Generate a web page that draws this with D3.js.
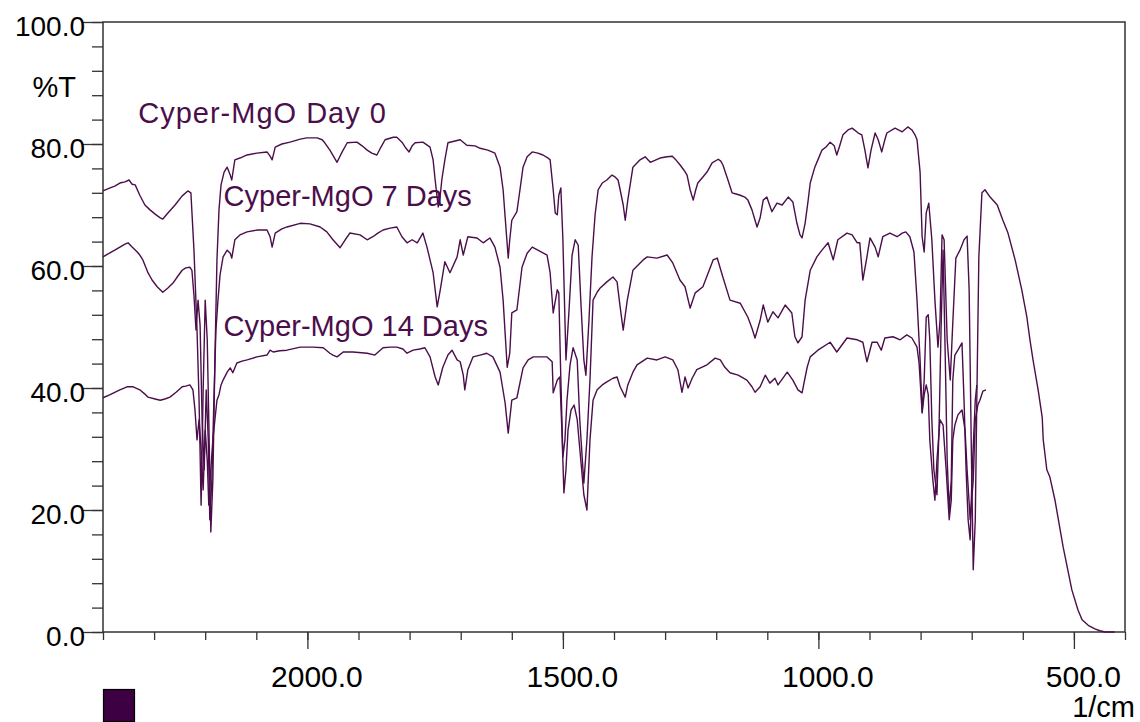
<!DOCTYPE html>
<html>
<head>
<meta charset="utf-8">
<script src="https://cdn.jsdelivr.net/npm/d3@7"></script>
<style>
  html, body { margin: 0; padding: 0; background: #fff; }
  svg { display: block; font-family: "Liberation Sans", Arial, sans-serif; }
</style>
</head>
<body>
<div id="chart"></div>
<script>
// ==== data: [wavenumber (1/cm), %T] ====

const day0 = [
  [2400,72.3],[2386,72.8],[2377,73.1],[2367,73.6],[2357,73.8],[2349,74.1],[2343,73.4],[2337,73.3],
  [2328,71.6],[2318,70.0],[2308,69.2],[2298,68.5],[2288,67.9],[2283,67.7],[2273,68.7],[2259,70.0],
  [2245,71.5],[2234,72.3],[2228,72.0],[2222,62.6],[2216,49.5],[2212,38.0],[2208,20.8],[2204,39.7],
  [2200,54.4],[2196,47.9],[2193,34.8],[2189,16.4],[2185,24.9],[2181,44.6],[2177,61.0],[2173,69.2],
  [2169,73.3],[2163,75.4],[2157,76.2],[2151,74.9],[2148,74.1],[2142,77.4],[2132,77.7],[2118,78.2],
  [2099,78.5],[2079,78.7],[2073,78.0],[2069,77.4],[2063,79.5],[2050,80.0],[2034,80.3],[2014,80.8],
  [2001,81.0],[1981,81.0],[1971,80.7],[1966,80.2],[1956,79.0],[1942,77.0],[1932,78.7],[1922,80.2],
  [1903,80.3],[1893,79.7],[1883,79.0],[1874,78.5],[1864,78.2],[1856,79.5],[1848,80.7],[1832,81.1],
  [1825,81.1],[1815,80.3],[1807,79.3],[1801,78.7],[1795,79.7],[1789,80.2],[1774,80.3],[1760,79.5],
  [1754,77.4],[1750,74.1],[1744,69.7],[1740,71.6],[1737,74.1],[1731,77.4],[1725,80.2],[1711,80.5],
  [1701,80.7],[1688,79.8],[1672,79.7],[1662,79.3],[1647,79.0],[1633,78.5],[1623,76.2],[1617,72.5],
  [1613,68.0],[1607,61.3],[1604,64.3],[1600,67.5],[1590,68.9],[1584,72.5],[1578,76.2],[1570,77.9],
  [1560,78.7],[1549,78.5],[1539,78.2],[1529,77.7],[1525,77.4],[1519,72.5],[1515,68.7],[1511,68.4],
  [1508,71.6],[1504,72.8],[1500,64.3],[1494,44.6],[1488,52.8],[1482,61.8],[1476,64.3],[1470,63.4],
  [1465,54.4],[1459,44.6],[1455,42.1],[1449,51.1],[1443,61.5],[1437,68.4],[1431,72.5],[1423,73.6],
  [1414,74.1],[1404,74.9],[1398,74.6],[1392,74.1],[1388,72.5],[1382,70.0],[1378,67.5],[1373,70.8],
  [1363,76.2],[1349,77.4],[1339,77.9],[1329,77.0],[1310,77.7],[1296,77.9],[1286,78.0],[1279,77.4],
  [1271,76.6],[1263,75.7],[1257,74.9],[1251,72.5],[1245,70.8],[1240,72.5],[1236,73.6],[1226,74.6],
  [1218,75.4],[1208,76.9],[1196,77.5],[1191,77.2],[1187,76.6],[1177,74.1],[1169,72.0],[1161,71.8],
  [1153,71.6],[1144,71.3],[1138,70.8],[1130,69.2],[1124,67.5],[1120,66.4],[1114,67.9],[1108,70.8],
  [1101,71.3],[1091,68.9],[1081,70.3],[1071,70.0],[1059,71.3],[1050,70.5],[1042,67.0],[1036,65.1],
  [1032,64.6],[1026,67.0],[1020,70.8],[1016,73.6],[1007,76.2],[1001,77.4],[993,79.0],[985,79.5],
  [977,80.3],[969,79.7],[964,78.2],[958,79.8],[952,81.5],[942,82.3],[934,82.6],[922,81.8],
  [915,81.5],[909,79.0],[903,76.1],[897,79.0],[889,81.8],[883,80.7],[876,78.7],[870,80.7],
  [866,81.8],[850,82.6],[836,82.0],[825,82.8],[817,82.3],[811,81.5],[807,80.7],[801,75.4],
  [797,64.8],[793,62.3],[789,68.7],[784,70.3],[778,64.3],[772,54.4],[766,46.7],[762,51.1],
  [758,65.1],[754,64.3],[748,47.9],[742,41.3],[737,50.7],[731,61.3],[723,62.6],[715,64.3],
  [709,64.9],[705,56.1],[701,31.5],[697,10.2],[693,18.4],[690,38.0],[686,61.5],[680,72.0],
  [674,72.5],[664,71.3],[650,70.0],[639,67.5],[629,65.4],[615,61.0],[602,56.1],[592,51.6],
  [586,47.9],[580,44.6],[570,39.7],[562,35.2],[560,31.5],[553,26.6],[547,25.4],[537,21.6],
  [521,13.9],[504,6.9],[492,3.6],[484,2.0],[472,1.1],[459,0.5],[449,0.2],[439,0.0],[420,0.0]
];

const day7 = [
  [2400,61.5],[2390,62.0],[2377,62.6],[2367,63.1],[2357,63.6],[2351,63.8],[2343,63.1],[2333,62.3],
  [2328,61.8],[2322,61.0],[2312,58.9],[2304,57.7],[2294,56.6],[2283,55.7],[2273,56.4],[2263,57.2],
  [2253,58.4],[2245,59.3],[2238,59.7],[2230,59.8],[2226,59.3],[2222,55.2],[2218,49.5],[2214,54.4],
  [2210,50.3],[2206,34.8],[2202,26.6],[2198,39.7],[2194,31.5],[2191,18.4],[2187,24.9],[2183,38.0],
  [2179,49.5],[2175,54.4],[2171,58.5],[2165,61.5],[2157,62.6],[2151,62.1],[2148,61.3],[2142,64.3],
  [2132,65.1],[2118,65.6],[2097,65.9],[2079,65.9],[2073,64.8],[2069,63.1],[2063,65.4],[2050,66.1],
  [2040,66.4],[2014,67.0],[1995,66.9],[1975,66.4],[1962,65.6],[1950,64.3],[1936,63.0],[1926,64.3],
  [1917,65.4],[1897,65.1],[1883,64.3],[1872,64.8],[1862,65.4],[1852,65.9],[1838,66.2],[1825,66.4],
  [1815,64.8],[1805,63.8],[1795,64.3],[1785,63.8],[1774,65.4],[1766,63.1],[1760,61.0],[1754,58.9],
  [1746,53.3],[1740,56.1],[1731,60.7],[1721,58.9],[1707,61.5],[1701,64.3],[1695,61.8],[1686,64.8],
  [1668,64.6],[1656,63.8],[1643,64.6],[1633,63.1],[1623,59.8],[1617,54.4],[1609,43.4],[1604,45.7],
  [1600,52.3],[1590,52.8],[1580,59.8],[1570,62.1],[1560,63.1],[1549,62.6],[1531,61.8],[1525,58.9],
  [1519,52.3],[1511,56.1],[1508,55.6],[1504,41.3],[1500,28.7],[1496,31.5],[1492,38.0],[1486,43.8],
  [1480,46.6],[1472,44.6],[1467,34.8],[1459,24.4],[1453,31.5],[1447,41.3],[1441,54.4],[1433,55.7],
  [1427,56.4],[1414,57.4],[1402,58.2],[1394,57.4],[1388,53.3],[1382,49.5],[1374,54.4],[1363,59.3],
  [1343,61.0],[1335,61.5],[1316,61.3],[1296,61.8],[1285,60.5],[1271,57.7],[1261,56.6],[1251,53.1],
  [1241,55.6],[1226,56.6],[1206,61.0],[1198,61.3],[1187,58.2],[1173,54.4],[1153,53.9],[1138,51.6],
  [1130,49.8],[1124,48.2],[1114,51.1],[1108,53.6],[1099,50.8],[1089,52.5],[1079,51.5],[1065,53.6],
  [1052,52.3],[1046,48.4],[1040,47.4],[1032,48.4],[1026,54.4],[1016,59.3],[1003,61.5],[993,62.6],
  [981,63.8],[971,61.0],[962,64.3],[944,65.4],[934,65.1],[924,63.8],[919,63.8],[913,57.7],
  [905,61.5],[899,64.6],[889,63.1],[883,61.5],[874,64.8],[860,65.4],[846,64.8],[836,65.4],
  [829,65.6],[821,64.8],[813,62.3],[807,54.4],[801,44.6],[797,36.1],[793,41.3],[789,51.6],
  [785,52.0],[782,47.9],[778,34.8],[774,26.6],[768,22.5],[764,33.1],[760,49.5],[756,62.6],
  [752,46.2],[748,28.2],[744,20.0],[740,24.9],[737,41.3],[733,45.4],[727,46.2],[719,47.4],
  [715,38.0],[711,26.6],[707,18.4],[703,15.1],[699,26.6],[693,38.0],[690,40.5]
];

const day14 = [
  [2400,38.4],[2386,38.9],[2377,39.3],[2367,39.7],[2353,40.2],[2341,40.2],[2328,39.7],[2318,39.0],
  [2312,38.5],[2298,38.2],[2288,38.0],[2279,38.2],[2269,38.5],[2257,39.3],[2245,40.2],[2238,40.3],
  [2230,40.5],[2224,39.7],[2220,36.4],[2216,31.5],[2212,34.8],[2208,29.8],[2204,23.3],[2200,33.1],
  [2196,28.2],[2193,20.8],[2189,26.6],[2185,31.5],[2181,34.8],[2177,38.0],[2173,38.9],[2169,40.5],
  [2165,41.3],[2157,42.6],[2151,43.3],[2146,42.5],[2138,44.1],[2128,44.4],[2118,44.6],[2099,45.1],
  [2079,45.4],[2073,46.2],[2067,45.9],[2054,46.1],[2040,46.2],[2014,46.7],[1989,46.7],[1969,46.6],
  [1956,45.7],[1950,45.4],[1942,45.1],[1930,45.9],[1911,45.9],[1883,45.7],[1868,45.4],[1852,46.6],
  [1838,46.7],[1825,46.7],[1813,46.4],[1805,45.7],[1793,46.2],[1780,46.4],[1770,46.6],[1760,45.1],
  [1750,41.8],[1744,40.5],[1735,43.4],[1725,45.4],[1717,46.2],[1707,44.6],[1701,44.3],[1695,42.1],
  [1692,39.7],[1686,43.0],[1676,45.1],[1662,45.4],[1649,45.7],[1637,45.1],[1623,42.6],[1613,37.5],
  [1607,32.6],[1600,38.0],[1590,38.4],[1578,43.3],[1568,44.6],[1558,45.1],[1545,45.1],[1531,45.1],
  [1521,44.3],[1519,39.2],[1511,41.3],[1506,41.8],[1502,33.1],[1498,22.8],[1494,26.6],[1490,33.1],
  [1484,36.4],[1478,37.2],[1472,34.8],[1465,28.2],[1459,22.5],[1453,20.0],[1447,31.5],[1441,38.0],
  [1433,39.7],[1423,40.5],[1414,41.0],[1402,41.6],[1394,41.8],[1388,40.2],[1378,38.5],[1373,40.5],
  [1363,42.6],[1355,43.8],[1335,44.9],[1316,44.6],[1300,45.1],[1285,44.6],[1275,43.0],[1267,39.3],
  [1261,41.8],[1255,40.0],[1247,41.6],[1238,43.0],[1218,43.8],[1202,44.9],[1192,44.6],[1183,43.4],
  [1173,42.5],[1157,42.1],[1140,41.3],[1130,40.2],[1124,39.3],[1114,40.2],[1104,42.1],[1095,40.8],
  [1085,41.6],[1079,40.5],[1061,42.6],[1050,41.3],[1040,39.7],[1032,39.2],[1022,43.4],[1016,45.1],
  [1001,46.2],[977,47.5],[964,45.9],[944,48.2],[924,47.9],[913,47.5],[905,44.3],[895,47.5],
  [885,47.5],[877,46.2],[870,48.2],[854,48.4],[840,47.9],[827,48.7],[817,48.2],[807,46.7],
  [803,44.1],[797,35.9],[793,38.9],[789,40.5],[785,38.9],[782,31.5],[776,24.9],[772,21.6],
  [768,28.2],[762,34.8],[756,33.9],[750,26.6],[744,18.4],[740,21.6],[737,31.5],[733,33.9],
  [727,35.6],[719,36.4],[713,33.1],[709,26.6],[703,18.4],[697,24.9],[693,34.8],[688,37.2],
  [684,38.0],[678,39.5],[672,39.7]
];

const series = [day0, day7, day14];
const seriesLabels = ["Cyper-MgO Day 0", "Cyper-MgO 7 Days", "Cyper-MgO 14 Days"];
// label anchor in data units [wavenumber, %T]
const labelAt = [[2331, 83.4], [2164, 69.9], [2164, 48.6]];

const yMajor = [0, 20, 40, 60, 80, 100];
const yMinor = d3.range(0, 101, 4);
const xMajor = [2000, 1500, 1000, 500];
const xMinor = d3.range(400, 2401, 100);

const ink = "#4b0e4b";
const axisInk = "#333";

// ==== svg ====
const W = 1140, H = 722;
const svg = d3.select("#chart").append("svg")
  .attr("width", W).attr("height", H);

const x = d3.scaleLinear().domain([2400, 400]).range([103, 1125]);
const y = d3.scaleLinear().domain([0, 100]).range([632, 22]);

// frame
svg.append("rect")
  .attr("x", x(2400)).attr("y", y(100))
  .attr("width", x(400) - x(2400)).attr("height", y(0) - y(100))
  .attr("fill", "none").attr("stroke", axisInk).attr("stroke-width", 1.5);

// y axis (minor + major)
svg.append("g")
  .attr("transform", `translate(${x(2400)},0)`)
  .call(d3.axisLeft(y).tickValues(yMinor).tickSize(11).tickFormat("").tickSizeOuter(0))
  .call(g => g.select(".domain").remove())
  .call(g => g.selectAll("line").attr("stroke", axisInk).attr("stroke-width", 1.3));

const yAx = svg.append("g")
  .attr("transform", `translate(${x(2400)},0)`)
  .call(d3.axisLeft(y).tickValues(yMajor).tickSize(20).tickPadding(0)
    .tickFormat(d3.format(".1f")).tickSizeOuter(0));
yAx.select(".domain").remove();
yAx.selectAll("line").attr("stroke", axisInk).attr("stroke-width", 1.3);
yAx.selectAll("text")
  .attr("dy", 13).attr("x", -18)
  .attr("fill", "#000")
  .style("font-size", "28px")
  .style("font-family", "'Liberation Sans', Arial, sans-serif");

// x axis
svg.append("g")
  .attr("transform", `translate(0,${y(0)})`)
  .call(d3.axisBottom(x).tickValues(xMinor).tickSize(8).tickFormat("").tickSizeOuter(0))
  .call(g => g.select(".domain").remove())
  .call(g => g.selectAll("line").attr("stroke", axisInk).attr("stroke-width", 1.3));

const xAx = svg.append("g")
  .attr("transform", `translate(0,${y(0)})`)
  .call(d3.axisBottom(x).tickValues(xMajor).tickSize(17)
    .tickFormat(d3.format(".1f")).tickSizeOuter(0));
xAx.select(".domain").remove();
xAx.selectAll("line").attr("stroke", axisInk).attr("stroke-width", 1.3);
xAx.selectAll("text")
  .attr("y", 55).attr("dy", 0).attr("dx", 9)
  .attr("fill", "#000")
  .style("font-size", "30px")
  .style("font-family", "'Liberation Sans', Arial, sans-serif");

// axis titles
svg.append("text")
  .attr("x", 76).attr("y", 97)
  .attr("text-anchor", "end")
  .style("font-size", "29px")
  .text("%T");

svg.append("text")
  .attr("x", 1135).attr("y", 717)
  .attr("text-anchor", "end")
  .style("font-size", "29px")
  .text("1/cm");

// spectra
const line = d3.line().x(d => x(d[0])).y(d => y(d[1]));

svg.append("g")
  .selectAll("path")
  .data(series)
  .enter()
  .append("path")
    .attr("d", line)
    .attr("fill", "none")
    .attr("stroke", ink)
    .attr("stroke-width", 1.4)
    .attr("stroke-linejoin", "round");

// series labels
svg.append("g")
  .selectAll("text")
  .data(seriesLabels)
  .enter()
  .append("text")
    .attr("x", (d, i) => x(labelAt[i][0]))
    .attr("y", (d, i) => y(labelAt[i][1]))
    .attr("fill", ink)
    .style("font-size", "29px")
    .style("letter-spacing", (d, i) => i === 0 ? "1px" : "0px")
    .text(d => d);

// colour swatch under the plot
svg.append("rect")
  .attr("x", 103.5).attr("y", 689.5)
  .attr("width", 31).attr("height", 32)
  .attr("fill", "#3d0042")
  .attr("stroke", "#000").attr("stroke-width", 1.2);
</script>
</body>
</html>
